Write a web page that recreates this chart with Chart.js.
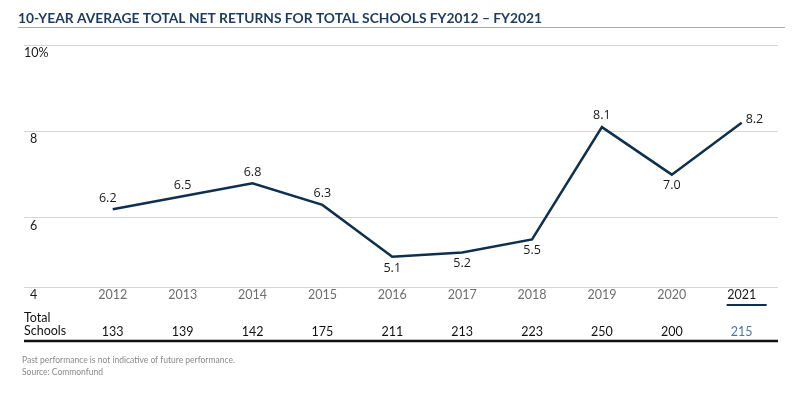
<!DOCTYPE html>
<html>
<head>
<meta charset="utf-8">
<script src="https://cdn.jsdelivr.net/npm/chart.js@4/dist/chart.umd.min.js"></script>
<style>
html,body{margin:0;padding:0;background:#fff;}
#wrap{width:800px;height:393px;position:relative;}
</style>
</head>
<body>
<div id="wrap"><canvas id="c" width="800" height="393"></canvas></div>
<script>
const years = [2012, 2013, 2014, 2015, 2016, 2017, 2018, 2019, 2020, 2021];
const returns = [6.2, 6.5, 6.8, 6.3, 5.1, 5.2, 5.5, 8.1, 7.0, 8.2];
const totalSchools = [133, 139, 142, 175, 211, 213, 223, 250, 200, 215];
const labelPos = ['top', 'top', 'top', 'top', 'bottom', 'bottom', 'bottom', 'top', 'bottom', 'right'];
const yTickValues = [4.4, 6, 8, 10];
const yTickLabels = ['4', '6', '8', '10%'];
const titleText = '10-YEAR AVERAGE TOTAL NET RETURNS FOR TOTAL SCHOOLS FY2012 \u2013 FY2021';
const footnotes = ['Past performance is not indicative of future performance.', 'Source: Commonfund'];

const NAVY = '#0f2f4e';

const decor = {
  id: 'decor',
  afterDraw(chart) {
    const ctx = chart.ctx;
    const xs = chart.scales.x, ys = chart.scales.y;
    const ca = chart.chartArea;
    ctx.save();
    // title
    ctx.fillStyle = '#1c3b5e';
    ctx.font = 'bold 13.8px Lato';
    ctx.textAlign = 'left';
    ctx.textBaseline = 'alphabetic';
    ctx.fillText(titleText, 18, 23);
    ctx.strokeStyle = '#ababab';
    ctx.lineWidth = 1;
    ctx.beginPath(); ctx.moveTo(18, 27.5); ctx.lineTo(785, 27.5); ctx.stroke();

    // y tick labels
    ctx.fillStyle = '#1a1a1a';
    ctx.font = '12.5px Lato';
    ctx.textBaseline = 'alphabetic';
    yTickValues.forEach((v, i) => {
      const py = ys.getPixelForValue(v);
      const lx = yTickLabels[i].length > 2 ? ca.left : ca.left + 6;
      ctx.fillText(yTickLabels[i], lx, py + 12);
    });

    // year labels
    ctx.textAlign = 'center';
    ctx.font = '12.5px Lato';
    years.forEach((yr, i) => {
      const px = xs.getPixelForValue(yr);
      const last = i === years.length - 1;
      ctx.fillStyle = last ? '#1a1a1a' : '#6e6e6e';
      ctx.fillText(String(yr), px, ca.bottom + 12);
      if (last) {
        ctx.strokeStyle = NAVY;
        ctx.lineWidth = 2;
        ctx.beginPath(); ctx.moveTo(px - 15, ca.bottom + 18); ctx.lineTo(px + 25, ca.bottom + 18); ctx.stroke();
      }
    });

    // table row
    ctx.textAlign = 'left';
    ctx.fillStyle = '#111';
    ctx.font = '12.5px Lato';
    ctx.fillText('Total', ca.left, ca.bottom + 35);
    ctx.fillText('Schools', ca.left, ca.bottom + 48);
    ctx.textAlign = 'center';
    totalSchools.forEach((n, i) => {
      const px = xs.getPixelForValue(years[i]);
      ctx.fillStyle = i === totalSchools.length - 1 ? '#4a78ab' : '#111';
      ctx.fillText(String(n), px, ca.bottom + 48.5);
    });
    ctx.strokeStyle = '#111';
    ctx.lineWidth = 2.5;
    ctx.beginPath(); ctx.moveTo(ca.left, ca.bottom + 54); ctx.lineTo(ca.right, ca.bottom + 54); ctx.stroke();

    // footnotes
    ctx.textAlign = 'left';
    ctx.fillStyle = '#8a8a8a';
    ctx.font = '8.5px Lato';
    ctx.fillText(footnotes[0], 22, ca.bottom + 76);
    ctx.fillText(footnotes[1], 22, ca.bottom + 88);

    // data labels
    const meta = chart.getDatasetMeta(0);
    ctx.fillStyle = '#1a1a1a';
    ctx.font = '12.5px "Open Sans"';
    meta.data.forEach((pt, i) => {
      const txt = returns[i].toFixed(1);
      const pos = labelPos[i];
      if (pos === 'top') {
        ctx.textAlign = 'center'; ctx.textBaseline = 'bottom';
        ctx.fillText(txt, pt.x - (i === 0 ? 5 : 0), pt.y - 5);
      } else if (pos === 'bottom') {
        ctx.textAlign = 'center'; ctx.textBaseline = 'top';
        ctx.fillText(txt, pt.x, pt.y + 5);
      } else {
        ctx.textAlign = 'left'; ctx.textBaseline = 'middle';
        ctx.fillText(txt, pt.x + 4, pt.y - 3);
      }
    });
    ctx.restore();
  }
};

new Chart(document.getElementById('c'), {
  type: 'line',
  data: {
    datasets: [{
      data: years.map((yr, i) => ({ x: yr, y: returns[i] })),
      borderColor: NAVY,
      borderWidth: 2.5,
      pointRadius: 0,
      tension: 0,
      fill: false
    }]
  },
  options: {
    responsive: false,
    animation: false,
    devicePixelRatio: 1,
    layout: { padding: { left: 24, right: 22, top: 45, bottom: 106 } },
    plugins: { legend: { display: false }, tooltip: { enabled: false }, title: { display: false } },
    scales: {
      x: {
        type: 'linear',
        display: false,
        min: 2010.73,
        max: 2021.52
      },
      y: {
        type: 'linear',
        min: 4.4,
        max: 10,
        afterBuildTicks(scale) { scale.ticks = yTickValues.map(v => ({ value: v })); },
        grid: { color: '#d6d6d6', lineWidth: 1, drawTicks: false },
        border: { display: false },
        ticks: { display: false }
      }
    }
  },
  plugins: [decor]
});
</script>
</body>
</html>
